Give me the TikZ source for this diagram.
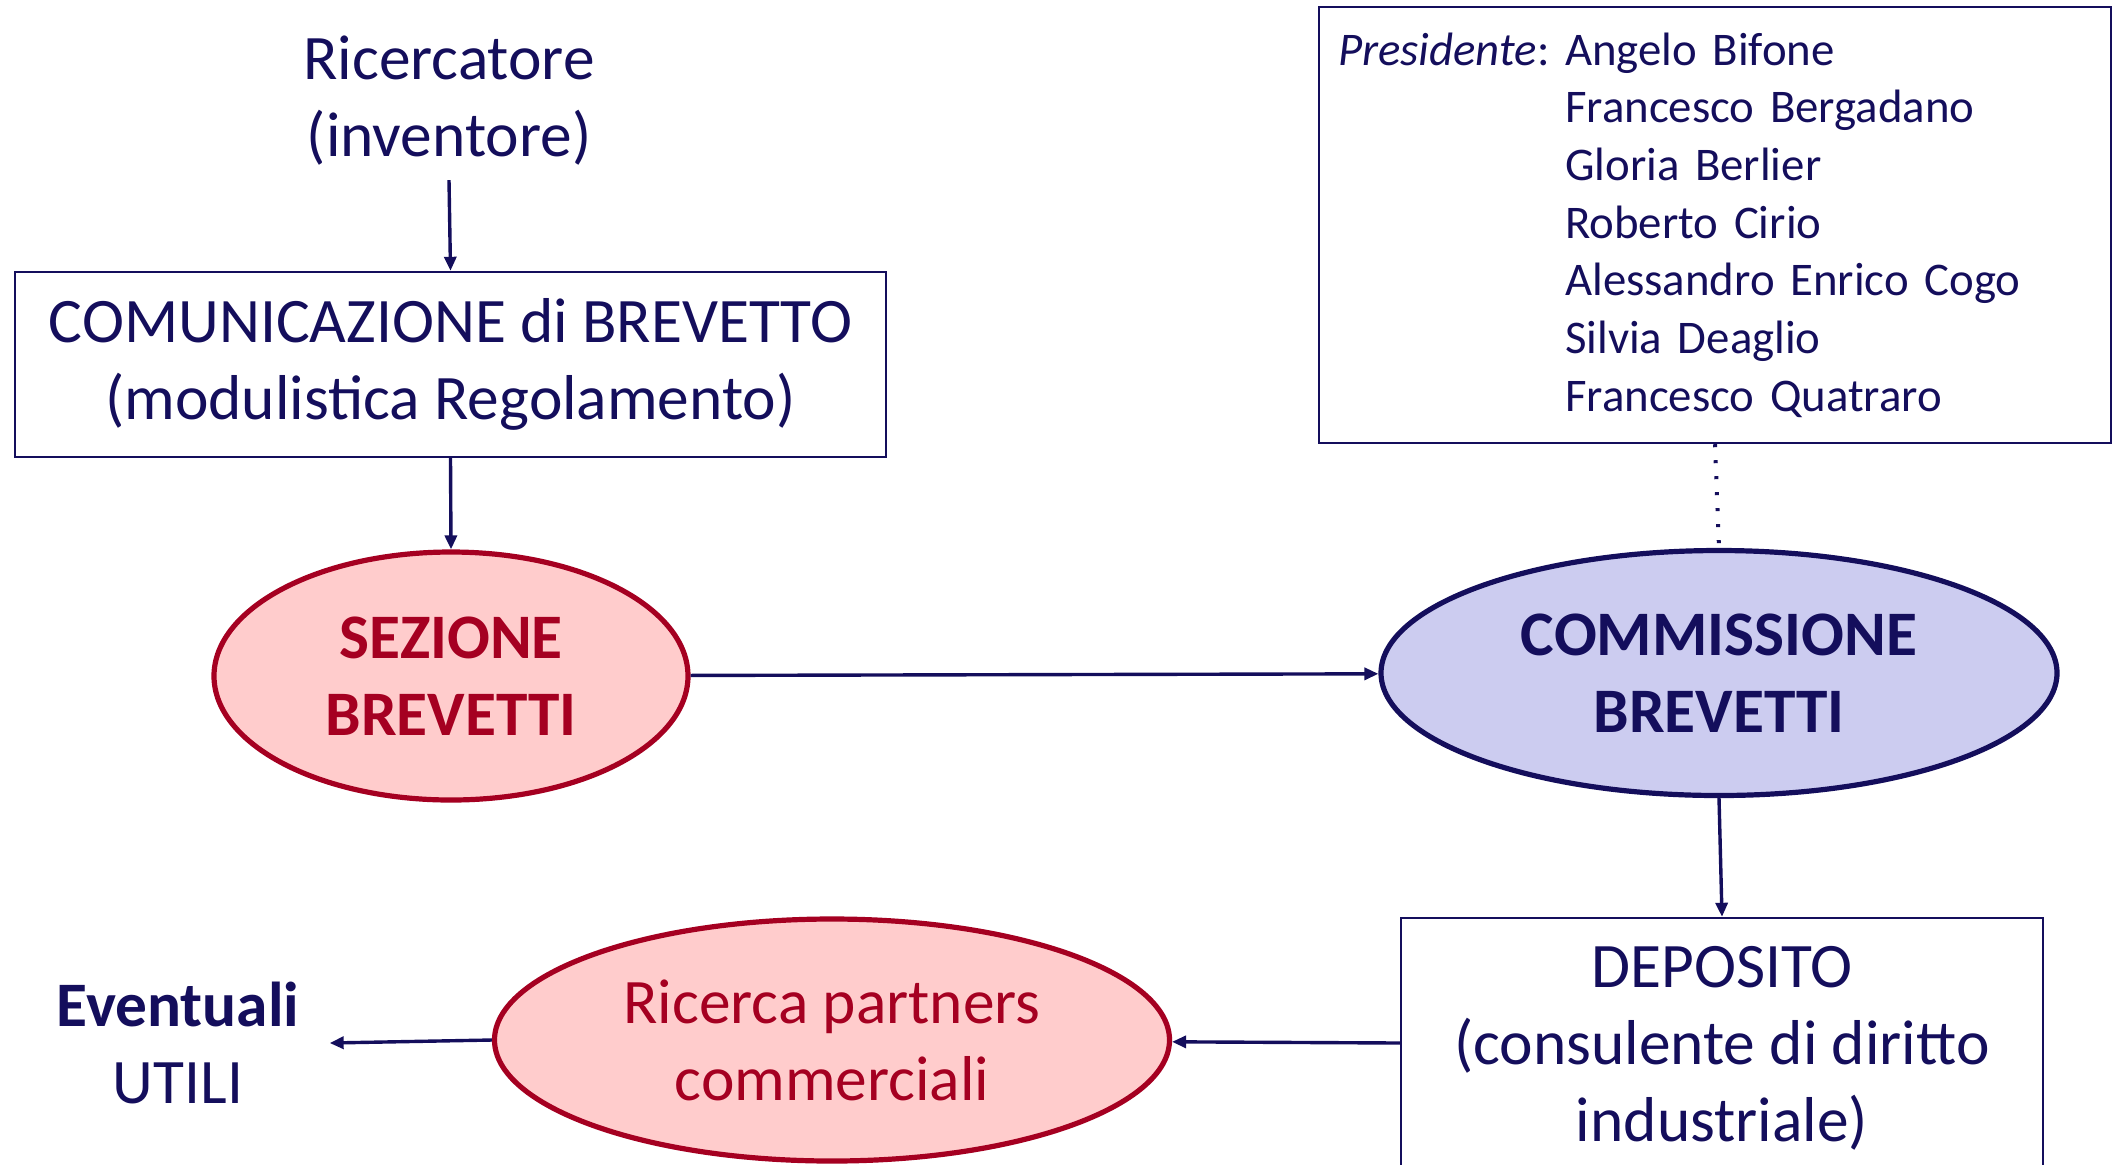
\documentclass[tikz,border=0pt]{standalone}
\usepackage{fontspec}
\setmainfont{Carlito}
\usetikzlibrary{arrows.meta,shapes.geometric}
\definecolor{navy}{RGB}{20,14,92}
\definecolor{dred}{RGB}{165,0,33}
\definecolor{pinkf}{RGB}{255,204,204}
\definecolor{lavf}{RGB}{204,204,240}
\newcommand\mybigfont{\fontsize{31.7}{38.5}\selectfont}
\newcommand\mysmallfont{\fontsize{23.4}{28.85}\selectfont}
\begin{document}
\frenchspacing
\begin{tikzpicture}[x=0.5pt,y=-0.5pt,
  every node/.style={text=navy,font=\mybigfont,align=center},
  conn/.style={draw=navy,line width=1.7pt,-{Triangle[length=7pt,width=6pt]}},
  dotconn/.style={draw=navy,line width=2pt,dash pattern=on 1.5pt off 6.5pt},
  boxnode/.style={draw=navy,line width=1.2pt,rectangle,inner sep=0pt},
  ell/.style={ellipse,inner sep=0pt,line width=2.6pt}]
\useasboundingbox (0,0) rectangle (2119,1164);
\node[inner sep=7pt] (ric) at (449,101) {Ricercatore\\(inventore)};
\node[boxnode,minimum width=435.5pt,minimum height=92.5pt] (com) at (450.5,364.5) {COMUNICAZIONE di BREVETTO\\(modulistica Regolamento)};
\node[ell,draw=dred,fill=pinkf,text=dred,minimum width=237pt,minimum height=124pt,font=\mybigfont\bfseries] (sez) at (451,676) {SEZIONE\\BREVETTI};
\node[ell,draw=navy,fill=lavf,minimum width=338pt,minimum height=122.5pt,font=\mybigfont\bfseries] (comm) at (1719,673) {COMMISSIONE\\BREVETTI};
\node[boxnode,minimum width=396pt,minimum height=218pt,text width=377pt,align=left,inner xsep=9.5pt,font=\mysmallfont] (mem) at (1715,225) {\textit{Presidente}: Angelo Bifone\\
\hphantom{\textit{Presidente}: }Francesco Bergadano\\
\hphantom{\textit{Presidente}: }Gloria Berlier\\
\hphantom{\textit{Presidente}: }Roberto Cirio\\
\hphantom{\textit{Presidente}: }Alessandro Enrico Cogo\\
\hphantom{\textit{Presidente}: }Silvia Deaglio\\
\hphantom{\textit{Presidente}: }Francesco Quatraro};
\node[boxnode,minimum width=321pt,minimum height=130pt] (dep) at (1722,1048) {DEPOSITO\\(consulente di diritto\\industriale)};
\node[ell,draw=dred,fill=pinkf,text=dred,minimum width=337.5pt,minimum height=121pt] (rp) at (832,1040) {Ricerca partners\\commerciali};
\node[inner xsep=15pt] (ev) at (178,1043) {\textbf{Eventuali}\\UTILI};
\draw[conn] (ric.south) -- (com.north);
\draw[conn] (com.south) -- (sez.north);
\draw[conn] (sez) -- (comm);
\draw[dotconn] (mem.south) -- (comm.north);
\draw[conn] (comm.south) -- (dep.north);
\draw[conn] ([yshift=2.5pt]dep.west) -- (rp);
\draw[conn] (rp.west) -- (ev.east);
\end{tikzpicture}
\end{document}
